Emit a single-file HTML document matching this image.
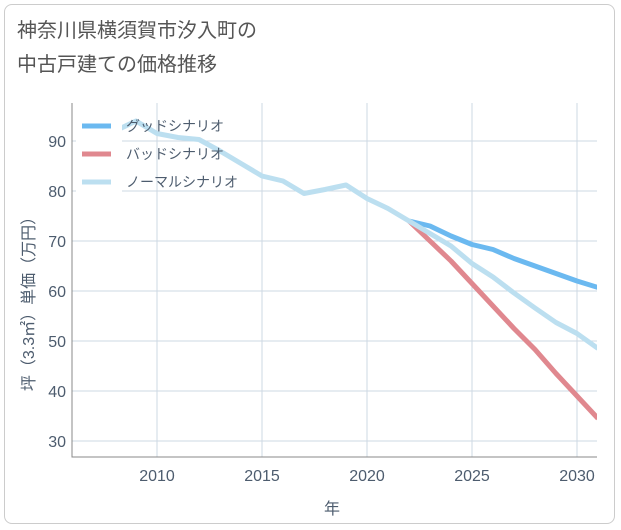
<!DOCTYPE html>
<html><head><meta charset="utf-8"><style>
body{margin:0;background:#fff;font-family:"Liberation Sans","Noto Sans CJK JP",sans-serif;}
#wrap{position:relative;width:621px;height:530px;}
#frame{position:absolute;left:4px;top:4px;width:611px;height:520px;border:1px solid #ccc;border-radius:8px;box-sizing:border-box;}
#title{position:absolute;left:17px;top:14px;font-size:20px;line-height:34px;color:#555;}
</style></head><body>
<div id="wrap">
<div id="frame"></div>
<div id="title">神奈川県横須賀市汐入町の<br>中古戸建ての価格推移</div>
<svg id="chart" width="621" height="530" style="position:absolute;left:0;top:0"></svg>
</div>
<script>
const years=[2008,2009,2010,2011,2012,2013,2014,2015,2016,2017,2018,2019,2020,2021,2022];
const normalHist=[92,94,91.5,90.7,90.3,88,85.5,83,82,79.5,80.3,81.2,78.5,76.5,74];
const futureYears=[2022,2023,2024,2025,2026,2027,2028,2029,2030,2031];
const good=[74,73,71,69.3,68.3,66.5,65,63.5,62,60.7];
const bad=[74,70,66,61.5,57,52.5,48.3,43.5,39,34.5];
const normalFut=[74,71.5,69,65.5,62.8,59.6,56.6,53.7,51.5,48.5];
const xTicks=[2010,2015,2020,2025,2030];
const yTicks=[30,40,50,60,70,80,90];
const L=72,R=597,T=103,B=457;
const x=v=>157+(v-2010)*21;
const y=v=>141+(90-v)*5;
const svg=document.getElementById('chart');
const NS='http://www.w3.org/2000/svg';
const TXT='#4d5c6e';
function mk(t,a){const e=document.createElementNS(NS,t);for(const k in a)e.setAttribute(k,a[k]);svg.appendChild(e);return e;}
for(const t of xTicks){const g=mk('line',{x1:x(t),x2:x(t),y1:T,y2:B,stroke:'#cdd8e3','stroke-width':1});


const l=mk('text',{x:x(t),y:481,'text-anchor':'middle','font-size':16,fill:TXT});l.textContent=t;

}
for(const t of yTicks){const g=mk('line',{x1:L,x2:R,y1:y(t),y2:y(t),stroke:'#cdd8e3','stroke-width':1});


const l=mk('text',{x:66,y:y(t)+6,'text-anchor':'end','font-size':16,fill:TXT});l.textContent=t;

}
const ax=mk('path',{d:`M${L} ${T}V${B}H${R}`,fill:'none',stroke:'#888','stroke-width':1});


function line(xs,vs,c,n){const p=mk('polyline',{points:xs.map((v,i)=>x(v)+','+y(vs[i])).join(' '),fill:'none',stroke:c,'stroke-width':5,'stroke-linejoin':'round'});

}
const cp=mk('clipPath',{id:'cp'});const r=document.createElementNS(NS,'rect');r.setAttribute('x',L);r.setAttribute('y',T);r.setAttribute('width',R-L);r.setAttribute('height',B-T);cp.appendChild(r);
line(futureYears,bad,'#e0888f','bad-scenario-line');
line(futureYears,good,'#6bb9f0','good-scenario-line');
line(years.concat(futureYears.slice(1)),normalHist.concat(normalFut.slice(1)),'#bcdff0','normal-scenario-line');
svg.querySelectorAll('polyline').forEach(p=>p.setAttribute('clip-path','url(#cp)'));
const lg=mk('rect',{x:76,y:110,width:46,height:84,fill:'#fff'});


const leg=[['グッドシナリオ','#6bb9f0'],['バッドシナリオ','#e0888f'],['ノーマルシナリオ','#bcdff0']];
leg.forEach((d,i)=>{const yy=126+i*28;
const s=mk('line',{x1:82,x2:111,y1:yy,y2:yy,stroke:d[1],'stroke-width':5});


const t=mk('text',{x:126,y:yy+5,'font-size':14,fill:TXT});t.textContent=d[0];

});
const xt=mk('text',{x:332,y:514,'text-anchor':'middle','font-size':16,fill:TXT});xt.textContent='年';


const yt=mk('text',{x:0,y:0,'text-anchor':'middle','font-size':16,fill:TXT,transform:'translate(34,300) rotate(-90)'});yt.textContent='坪（3.3㎡）単価（万円）';


</script>
</body></html>
